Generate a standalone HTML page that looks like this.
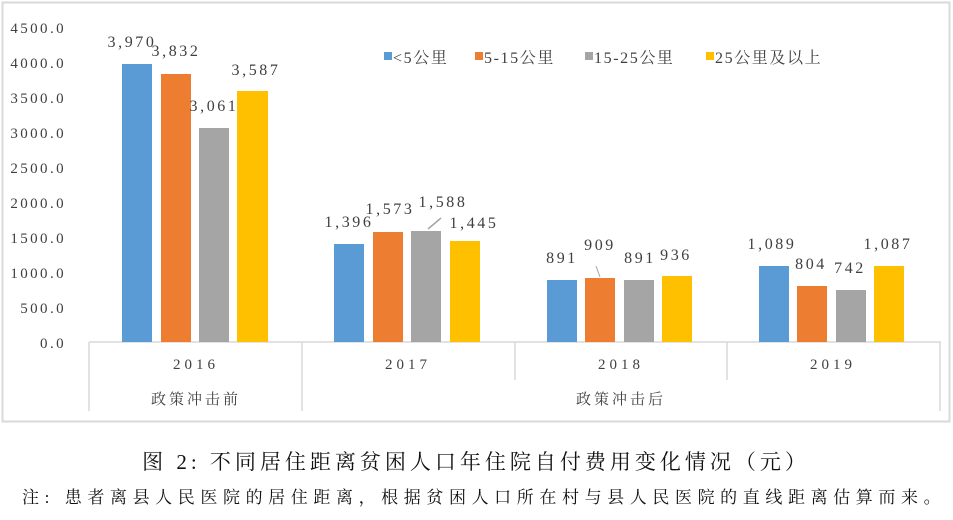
<!DOCTYPE html>
<html><head><meta charset="utf-8"><style>
body{margin:0;background:#fff;width:953px;height:515px;overflow:hidden}
svg text{font-family:"Liberation Serif","Noto Serif CJK SC",serif;fill:#404040}
</style></head><body>
<svg width="953" height="515" viewBox="0 0 953 515">
<rect x="2.5" y="2.5" width="947" height="419" fill="none" stroke="#d9d9d9" stroke-width="2"/>
<g font-size="15" text-anchor="end" letter-spacing="2.4">
<text x="66" y="33">4500.0</text><text x="66" y="68">4000.0</text><text x="66" y="103">3500.0</text>
<text x="66" y="138">3000.0</text><text x="66" y="173">2500.0</text><text x="66" y="208">2000.0</text>
<text x="66" y="243">1500.0</text><text x="66" y="278">1000.0</text><text x="66" y="313">500.0</text>
<text x="66" y="348">0.0</text>
</g>
<g stroke="#d9d9d9" stroke-width="1.5" fill="none">
<line x1="89" y1="342" x2="941" y2="342"/>
<line x1="89" y1="342" x2="89" y2="411"/>
<line x1="302" y1="342" x2="302" y2="411"/>
<line x1="515" y1="342" x2="515" y2="380"/>
<line x1="727" y1="342" x2="727" y2="380"/>
<line x1="940" y1="342" x2="940" y2="411"/>
</g>
<g>
<rect x="122" y="64" width="30" height="278" fill="#5b9bd5"/>
<rect x="161" y="74" width="30" height="268" fill="#ed7d31"/>
<rect x="199" y="128" width="30" height="214" fill="#a5a5a5"/>
<rect x="237" y="91" width="31" height="251" fill="#ffc000"/>
<rect x="334" y="244" width="30" height="98" fill="#5b9bd5"/>
<rect x="373" y="232" width="30" height="110" fill="#ed7d31"/>
<rect x="411" y="231" width="30" height="111" fill="#a5a5a5"/>
<rect x="450" y="241" width="30" height="101" fill="#ffc000"/>
<rect x="547" y="280" width="30" height="62" fill="#5b9bd5"/>
<rect x="585" y="278" width="30" height="64" fill="#ed7d31"/>
<rect x="624" y="280" width="30" height="62" fill="#a5a5a5"/>
<rect x="662" y="276" width="30" height="66" fill="#ffc000"/>
<rect x="759" y="266" width="30" height="76" fill="#5b9bd5"/>
<rect x="797" y="286" width="30" height="56" fill="#ed7d31"/>
<rect x="836" y="290" width="30" height="52" fill="#a5a5a5"/>
<rect x="874" y="266" width="30" height="76" fill="#ffc000"/>
</g>
<line x1="428" y1="229" x2="441" y2="218" stroke="#a5a5a5" stroke-width="1.5"/>
<line x1="600" y1="277" x2="596" y2="266" stroke="#a5a5a5" stroke-width="1"/>
<g font-size="16" text-anchor="middle" letter-spacing="2.6">
<text x="132" y="47">3,970</text><text x="176" y="56">3,832</text><text x="214" y="111">3,061</text><text x="256" y="75">3,587</text>
<text x="349" y="227">1,396</text><text x="390" y="214">1,573</text><text x="443" y="207">1,588</text><text x="474" y="228">1,445</text>
<text x="562" y="263">891</text><text x="600" y="250">909</text><text x="640" y="263">891</text><text x="676" y="260">936</text>
<text x="772" y="249">1,089</text><text x="811" y="269">804</text><text x="850" y="273">742</text><text x="888" y="249">1,087</text>
</g>
<g font-size="16" letter-spacing="1.6">
<rect x="384" y="52" width="8" height="8" fill="#5b9bd5"/><text x="393" y="63">&lt;5公里</text>
<rect x="475" y="52" width="8" height="8" fill="#ed7d31"/><text x="484" y="63">5-15公里</text>
<rect x="585" y="52" width="8" height="8" fill="#a5a5a5"/><text x="594" y="63">15-25公里</text>
<rect x="706" y="52" width="8" height="8" fill="#ffc000"/><text x="715" y="63">25公里及以上</text>
</g>
<g font-size="15" text-anchor="middle" letter-spacing="4">
<text x="196" y="369">2016</text><text x="408" y="369">2017</text><text x="621" y="369">2018</text><text x="833" y="369">2019</text>
</g>
<g font-size="15" text-anchor="middle" letter-spacing="3">
<text x="196" y="404">政策冲击前</text><text x="621" y="404">政策冲击后</text>
</g>
<text x="476" y="469" font-size="21" text-anchor="middle" letter-spacing="4" style="fill:#111">图 2: 不同居住距离贫困人口年住院自付费用变化情况（元）</text>
<text x="22" y="503" font-size="17" letter-spacing="5.6" style="fill:#111">注: 患者离县人民医院的居住距离，根据贫困人口所在村与县人民医院的直线距离估算而来。</text>
</svg>
</body></html>
